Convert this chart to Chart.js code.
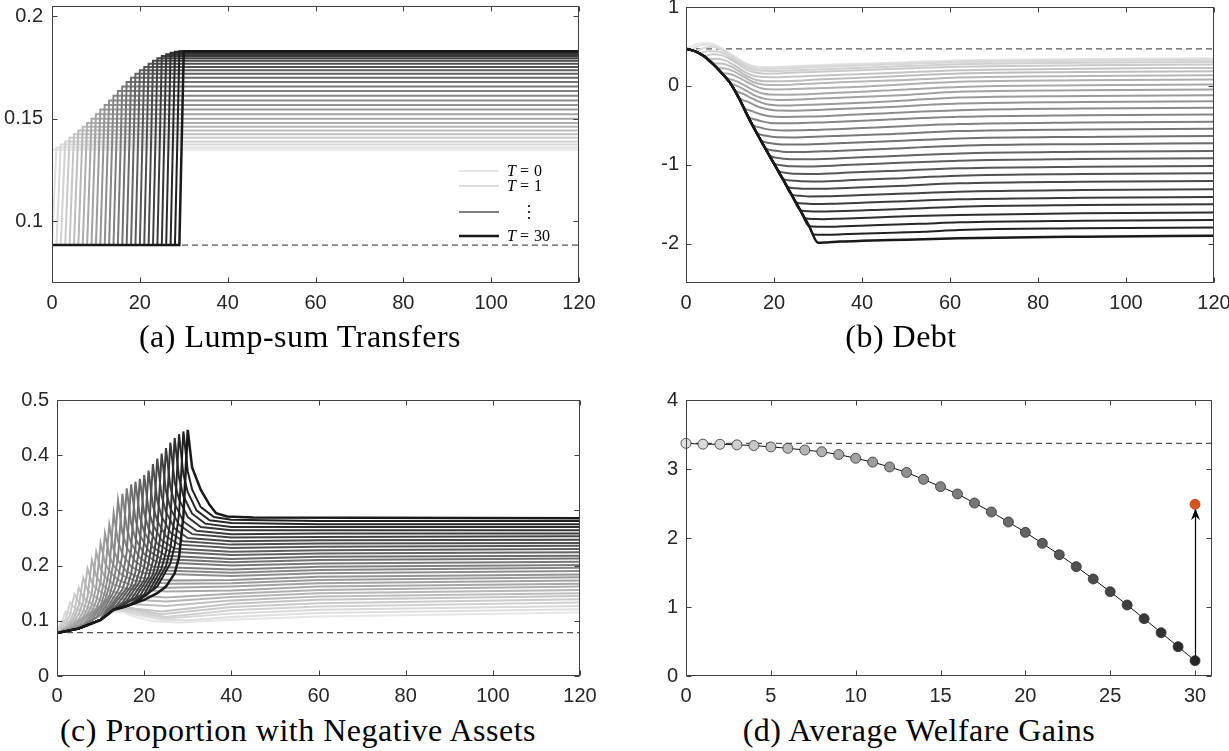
<!DOCTYPE html>
<html>
<head>
<meta charset="utf-8">
<script src="https://cdn.jsdelivr.net/npm/chart.js@4.4.1/dist/chart.umd.min.js"></script>
<style>
  html, body { margin: 0; padding: 0; background: #fff; overflow: hidden; }
  body { width: 1229px; height: 751px; position: relative; }
  canvas { position: absolute; }
  .cap { position: absolute; font-family: 'Liberation Serif', 'Times New Roman', serif; font-size: 32px;
         letter-spacing: 0.5px; color: #000; white-space: nowrap; transform: translateX(-50%); line-height: 1; }
</style>
</head>
<body>
<canvas id="chartA" width="614" height="320" style="left:0;top:0"></canvas>
<canvas id="chartB" width="615" height="320" style="left:614px;top:0"></canvas>
<canvas id="chartC" width="614" height="350" style="left:0;top:360px"></canvas>
<canvas id="chartD" width="615" height="350" style="left:614px;top:360px"></canvas>
<div class="cap" style="left:300px;top:320px">(a) Lump-sum Transfers</div>
<div class="cap" style="left:901px;top:320px">(b) Debt</div>
<div class="cap" style="left:298px;top:714px">(c) Proportion with Negative Assets</div>
<div class="cap" style="left:919px;top:714px">(d) Average Welfare Gains</div>

<script>
// delay T of the transfer increase, one line per value
const delays = [0, 1, 2, 3, 4, 5, 6, 7, 8, 9, 10, 11, 12, 13, 14, 15, 16, 17, 18, 19, 20, 21, 22, 23, 24, 25, 26, 27, 28, 29, 30];
const horizon = 120;

const xTicks = [0, 20, 40, 60, 80, 100, 120];
const yTicksA = [0.1, 0.15, 0.2];
const yTicksB = [-2, -1, 0, 1];
const yTicksC = [0, 0.1, 0.2, 0.3, 0.4, 0.5];
const xTicksD = [0, 5, 10, 15, 20, 25, 30];
const yTicksD = [0, 1, 2, 3, 4];

// (a) transfers: old level until T, new level afterwards
const transferOld = 0.0885;
const transferNew = [0.1350, 0.1360, 0.1375, 0.1390, 0.1408, 0.1425, 0.1443, 0.1462, 0.1480, 0.1500, 0.1522,
  0.1545, 0.1568, 0.1590, 0.1613, 0.1636, 0.1658, 0.1680, 0.1700, 0.1720, 0.1737, 0.1753, 0.1768, 0.1783,
  0.1795, 0.1806, 0.1815, 0.1822, 0.1827, 0.1829, 0.1830];

// (b) debt: shared path before T, then each line's own path
const debtSS = 0.47;
const debtCommonT = [0, 2, 4, 6, 8, 10, 12, 14, 16, 18, 20, 22, 24, 26, 28];
const debtCommonV = [0.47, 0.44, 0.38, 0.285, 0.17, 0.04, -0.15, -0.38, -0.59, -0.79, -0.985, -1.18, -1.38, -1.58, -1.78];
const debtTails = [
  [[0,.47],[2,.52],[4,.545],[6,.53],[8,.48],[10,.41],[12,.34],[14,.275],[16,.245],[18,.238],[21,.242],[26,.255],[35,.275],[50,.30],[62,.325],[90,.34],[120,.35]],
  [[1,.465],[3,.51],[5,.525],[7,.50],[9,.44],[11,.37],[13,.30],[15,.25],[17,.232],[20,.232],[26,.245],[35,.265],[50,.29],[62,.316],[90,.332],[120,.342]],
  [[2,.44],[4,.48],[6,.495],[8,.46],[10,.39],[12,.315],[14,.255],[16,.222],[18,.215],[22,.22],[30,.24],[45,.27],[62,.30],[90,.317],[120,.327]],
  [[3,.415],[5,.44],[7,.44],[9,.40],[11,.33],[13,.26],[15,.21],[17,.19],[20,.188],[28,.205],[45,.24],[62,.274],[90,.292],[120,.302]],
  [[4,.38],[6,.40],[8,.39],[10,.34],[12,.27],[14,.20],[16,.165],[18,.155],[22,.16],[30,.18],[45,.21],[62,.241],[90,.26],[120,.27]],
  [[5,.335],[7,.345],[9,.32],[11,.26],[13,.19],[15,.135],[17,.115],[20,.11],[28,.125],[45,.16],[62,.198],[90,.218],[120,.228]],
  [[6,.285],[8,.285],[10,.25],[12,.19],[14,.12],[16,.075],[18,.06],[22,.06],[30,.08],[45,.115],[62,.156],[90,.175],[120,.185]],
  [[7,.23],[9,.22],[11,.18],[13,.12],[15,.055],[17,.02],[19,.01],[24,.015],[35,.045],[50,.075],[62,.105],[90,.125],[120,.135]],
  [[8,.17],[10,.15],[12,.105],[14,.045],[16,-.01],[18,-.04],[21,-.045],[28,-.035],[40,-.01],[62,.051],[90,.07],[120,.08]],
  [[9,.105],[11,.07],[13,.015],[15,-.045],[17,-.09],[19,-.11],[23,-.112],[32,-.095],[45,-.06],[62,-.013],[90,.007],[120,.017]],
  [[10,.04],[12,-.01],[14,-.07],[16,-.13],[18,-.165],[21,-.178],[26,-.172],[35,-.15],[50,-.115],[62,-.076],[90,-.056],[120,-.046]],
  [[11,-.05],[13,-.10],[15,-.16],[17,-.21],[19,-.24],[22,-.25],[28,-.24],[40,-.215],[50,-.185],[62,-.148],[90,-.128],[120,-.118]],
  [[12,-.15],[14,-.20],[16,-.255],[18,-.29],[20,-.31],[24,-.315],[32,-.30],[45,-.27],[62,-.224],[90,-.204],[120,-.194]],
  [[13,-.265],[15,-.32],[17,-.36],[19,-.385],[22,-.395],[28,-.39],[40,-.36],[62,-.308],[90,-.288],[120,-.278]],
  [[14,-.38],[16,-.43],[18,-.46],[20,-.475],[24,-.475],[32,-.46],[45,-.43],[62,-.392],[90,-.372],[120,-.362]],
  [[15,-.485],[17,-.53],[19,-.555],[22,-.565],[28,-.56],[40,-.535],[62,-.485],[90,-.465],[120,-.455]],
  [[16,-.59],[18,-.63],[20,-.65],[24,-.655],[32,-.64],[45,-.615],[62,-.574],[90,-.554],[120,-.544]],
  [[17,-.69],[19,-.725],[21,-.74],[25,-.745],[33,-.73],[45,-.705],[62,-.667],[90,-.647],[120,-.637]],
  [[18,-.79],[20,-.82],[22,-.835],[26,-.84],[34,-.825],[45,-.80],[62,-.759],[90,-.739],[120,-.729]],
  [[19,-.885],[21,-.915],[23,-.928],[27,-.932],[35,-.918],[45,-.895],[62,-.857],[90,-.837],[120,-.827]],
  [[20,-.985],[22,-1.01],[24,-1.02],[28,-1.022],[36,-1.005],[45,-.985],[62,-.949],[90,-.929],[120,-.919]],
  [[21,-1.08],[23,-1.105],[25,-1.115],[29,-1.117],[37,-1.10],[46,-1.08],[62,-1.046],[90,-1.026],[120,-1.016]],
  [[22,-1.18],[24,-1.20],[26,-1.21],[30,-1.212],[38,-1.195],[47,-1.175],[62,-1.139],[90,-1.119],[120,-1.109]],
  [[23,-1.28],[25,-1.298],[27,-1.306],[31,-1.306],[39,-1.29],[48,-1.27],[62,-1.236],[90,-1.216],[120,-1.206]],
  [[24,-1.38],[26,-1.395],[28,-1.402],[32,-1.40],[40,-1.385],[50,-1.365],[62,-1.342],[90,-1.322],[120,-1.312]],
  [[25,-1.48],[27,-1.493],[29,-1.498],[33,-1.495],[41,-1.48],[50,-1.462],[62,-1.439],[90,-1.419],[120,-1.409]],
  [[26,-1.58],[28,-1.59],[30,-1.594],[34,-1.59],[42,-1.575],[52,-1.555],[62,-1.532],[90,-1.512],[120,-1.502]],
  [[27,-1.68],[29,-1.688],[31,-1.69],[35,-1.685],[43,-1.67],[52,-1.65],[62,-1.637],[90,-1.617],[120,-1.607]],
  [[28,-1.78],[30,-1.786],[32,-1.787],[36,-1.78],[44,-1.765],[53,-1.75],[62,-1.73],[90,-1.71],[120,-1.70]],
  [[29,-1.885],[31,-1.889],[33,-1.888],[37,-1.88],[45,-1.865],[54,-1.85],[62,-1.827],[90,-1.807],[120,-1.797]],
  [[30,-1.99],[32,-1.985],[35,-1.975],[40,-1.965],[50,-1.95],[62,-1.932],[90,-1.912],[120,-1.90]]
];

// (c) share of households with negative assets, [t, value] per line
const negSS = 0.0785;
const negPaths = [
  [[0,.078],[4,.084],[8,.093],[11,.106],[13,.117],[15,.116],[18,.107],[22,.099],[28,.097],[40,.102],[60,.108],[120,.115]],
  [[0,.078],[1,.100],[2,.098],[4,.097],[7,.099],[10,.108],[13,.118],[15,.118],[18,.111],[24,.102],[30,.101],[40,.107],[60,.114],[120,.121]],
  [[0,.078],[1,.096],[2,.117],[3,.114],[4,.112],[6,.111],[10,.113],[13,.119],[15,.119],[18,.113],[25,.104],[40,.113],[60,.120],[120,.127]],
  [[0,.078],[1,.092],[2,.103],[3,.133],[4,.124],[5,.120],[7,.116],[10,.116],[13,.121],[15,.121],[19,.115],[25,.107],[40,.119],[60,.126],[120,.133]],
  [[0,.078],[1,.089],[2,.096],[3,.111],[4,.148],[5,.134],[6,.128],[8,.122],[11,.121],[14,.124],[17,.121],[24,.112],[40,.125],[60,.132],[120,.139]],
  [[0,.078],[2,.091],[3,.101],[4,.117],[5,.160],[6,.143],[7,.135],[9,.127],[12,.125],[15,.126],[18,.122],[24,.117],[40,.131],[60,.138],[120,.145]],
  [[0,.078],[3,.096],[4,.107],[5,.127],[6,.178],[7,.156],[8,.147],[10,.137],[13,.133],[16,.131],[25,.127],[40,.137],[60,.144],[120,.150]],
  [[0,.078],[1,.083],[4,.100],[5,.112],[6,.135],[7,.195],[8,.169],[9,.158],[11,.147],[14,.140],[25,.135],[40,.143],[60,.150],[120,.156]],
  [[0,.078],[2,.085],[5,.103],[6,.117],[7,.143],[8,.210],[9,.181],[10,.168],[12,.155],[15,.148],[25,.142],[40,.149],[60,.156],[120,.162]],
  [[0,.078],[3,.087],[6,.107],[7,.123],[8,.151],[9,.225],[10,.194],[11,.180],[13,.166],[16,.158],[25,.153],[40,.155],[60,.162],[120,.167]],
  [[0,.078],[4,.090],[7,.112],[8,.129],[9,.161],[10,.241],[11,.205],[12,.190],[14,.174],[17,.165],[25,.160],[40,.162],[60,.168],[120,.173]],
  [[0,.078],[5,.092],[8,.117],[9,.136],[10,.170],[11,.258],[12,.218],[13,.200],[15,.182],[18,.172],[26,.167],[40,.168],[60,.174],[120,.179]],
  [[0,.078],[6,.094],[9,.122],[10,.142],[11,.180],[12,.274],[13,.229],[14,.209],[16,.189],[19,.178],[27,.173],[40,.174],[60,.180],[120,.184]],
  [[0,.078],[4,.084],[7,.098],[10,.128],[11,.152],[12,.193],[13,.295],[14,.244],[15,.221],[17,.198],[20,.186],[40,.181],[60,.186],[120,.190]],
  [[0,.078],[5,.086],[8,.102],[11,.137],[12,.163],[13,.208],[14,.318],[15,.259],[16,.233],[18,.207],[21,.192],[40,.187],[60,.192],[120,.196]],
  [[0,.078],[5,.086],[9,.106],[12,.145],[13,.172],[14,.215],[15,.330],[16,.268],[17,.241],[19,.214],[22,.198],[40,.193],[60,.198],[120,.201]],
  [[0,.078],[5,.086],[10,.111],[13,.152],[14,.176],[15,.220],[16,.340],[17,.277],[18,.249],[20,.221],[23,.206],[40,.200],[60,.204],[120,.207]],
  [[0,.078],[5,.086],[10,.102],[11,.117],[14,.155],[15,.179],[16,.224],[17,.347],[18,.284],[19,.255],[21,.227],[24,.212],[40,.206],[60,.210],[120,.213]],
  [[0,.078],[5,.086],[10,.102],[12,.123],[15,.157],[16,.181],[17,.228],[18,.352],[19,.289],[20,.261],[22,.233],[25,.218],[40,.212],[60,.216],[120,.218]],
  [[0,.078],[5,.086],[10,.102],[13,.129],[16,.159],[17,.185],[18,.232],[19,.357],[20,.295],[21,.267],[23,.240],[26,.225],[40,.219],[60,.222],[120,.224]],
  [[0,.078],[5,.086],[10,.102],[14,.131],[17,.163],[18,.189],[19,.237],[20,.364],[21,.301],[22,.274],[24,.246],[27,.231],[40,.225],[60,.228],[120,.230]],
  [[0,.078],[5,.086],[10,.102],[13,.120],[15,.133],[18,.167],[19,.193],[20,.242],[21,.372],[22,.309],[23,.281],[25,.253],[28,.238],[40,.232],[60,.234],[120,.236]],
  [[0,.078],[5,.086],[10,.102],[13,.120],[16,.136],[19,.171],[20,.198],[21,.249],[22,.384],[23,.318],[24,.289],[26,.260],[29,.244],[40,.238],[60,.240],[120,.241]],
  [[0,.078],[5,.086],[10,.102],[13,.120],[17,.139],[20,.174],[21,.203],[22,.255],[23,.394],[24,.327],[25,.297],[27,.267],[30,.250],[40,.244],[60,.246],[120,.247]],
  [[0,.078],[5,.086],[10,.102],[13,.120],[18,.142],[21,.179],[22,.208],[23,.262],[24,.403],[25,.335],[26,.304],[28,.274],[31,.257],[40,.251],[60,.252],[120,.253]],
  [[0,.078],[5,.086],[10,.102],[13,.120],[19,.145],[22,.184],[23,.214],[24,.270],[25,.413],[26,.343],[27,.312],[29,.280],[32,.263],[40,.257],[60,.258],[120,.258]],
  [[0,.078],[5,.086],[10,.102],[13,.120],[16,.126],[20,.148],[23,.190],[24,.221],[25,.276],[26,.423],[27,.351],[28,.320],[30,.288],[33,.270],[40,.264],[60,.264],[120,.264]],
  [[0,.078],[5,.086],[10,.102],[13,.120],[17,.129],[21,.152],[24,.195],[25,.225],[26,.282],[27,.431],[28,.359],[29,.326],[31,.294],[34,.276],[40,.270],[60,.270],[120,.270]],
  [[0,.078],[5,.086],[10,.102],[13,.120],[18,.132],[22,.157],[25,.199],[26,.231],[27,.288],[28,.438],[29,.365],[30,.333],[32,.300],[35,.282],[40,.277],[60,.275],[120,.275]],
  [[0,.078],[5,.086],[10,.102],[13,.120],[18,.132],[23,.162],[26,.204],[27,.236],[28,.293],[29,.443],[30,.371],[31,.338],[33,.306],[36,.288],[40,.283],[60,.281],[120,.281]],
  [[0,.078],[5,.086],[10,.101],[13,.120],[15,.124],[20,.138],[23,.150],[25,.162],[27,.186],[28,.215],[29,.290],[30,.446],[31,.378],[33,.337],[35,.310],[36.5,.295],[39,.289],[45,.287],[120,.286]]
];

// (d) average welfare gains by T
const welfare = [3.372, 3.36, 3.358, 3.35, 3.34, 3.32, 3.30, 3.275, 3.25, 3.21, 3.155, 3.10, 3.03, 2.95, 2.85,
  2.744, 2.638, 2.507, 2.377, 2.232, 2.082, 1.923, 1.758, 1.585, 1.406, 1.222, 1.029, 0.831, 0.628, 0.425, 0.222];
const welfareRef = 3.372;
const welfareAlt = 2.488;

Chart.defaults.font.family = "'Liberation Sans', Arial, Helvetica, sans-serif";

function gray(T, hi, lo) {
  const g = Math.round(255 * (hi - (hi - lo) * T / 30));
  return `rgb(${g},${g},${g})`;
}
const lineGray = T => gray(T, 0.9, 0.1);

function axis(min, max, ticks, size, horizontal, pad) {
  return {
    type: 'linear', min: min, max: max,
    grid: { display: false, drawTicks: false },
    border: { display: false },
    ticks: { color: '#262626', font: { size: 20 }, padding: pad, maxRotation: 0, autoSkip: false,
             callback: v => String(v) },
    afterBuildTicks: s => { s.ticks = ticks.map(v => ({ value: v })); },
    afterFit: s => {
      if (horizontal) s.height = size; else s.width = size;
      s.paddingLeft = s.paddingRight = s.paddingTop = s.paddingBottom = 0;
    }
  };
}

function refLine(v, x0, x1) {
  return { data: [{ x: x0, y: v }, { x: x1, y: v }], borderColor: '#555', borderWidth: 1.2,
           borderDash: [6, 4], pointRadius: 0 };
}

// box with inward ticks on all four sides, like the original axes
const frame = {
  id: 'frame',
  afterDraw(chart) {
    const { ctx, chartArea: a, scales: { x, y } } = chart;
    const L = Math.round(a.left) + 0.5, R = Math.round(a.right) - 0.5;
    const T = Math.round(a.top) + 0.5, B = Math.round(a.bottom) - 0.5;
    ctx.save();
    ctx.strokeStyle = '#404040';
    ctx.lineWidth = 1;
    ctx.strokeRect(L, T, R - L, B - T);
    ctx.beginPath();
    x.ticks.forEach(t => {
      const p = Math.round(x.getPixelForValue(t.value)) + 0.5;
      ctx.moveTo(p, B); ctx.lineTo(p, B - 5);
      ctx.moveTo(p, T); ctx.lineTo(p, T + 5);
    });
    y.ticks.forEach(t => {
      const p = Math.round(y.getPixelForValue(t.value)) + 0.5;
      ctx.moveTo(L, p); ctx.lineTo(L + 5, p);
      ctx.moveTo(R, p); ctx.lineTo(R - 5, p);
    });
    ctx.stroke();
    ctx.restore();
  }
};

const legendA = {
  id: 'legendA',
  afterDraw(chart) {
    const ctx = chart.ctx;
    const rows = [
      { label: '0', color: lineGray(0), y: 171, w: 2 },
      { label: '1', color: lineGray(1), y: 186, w: 2 },
      { label: null, color: lineGray(15), y: 212, w: 2 },
      { label: '30', color: lineGray(30), y: 236, w: 2.5 }
    ];
    ctx.save();
    rows.forEach(r => {
      ctx.strokeStyle = r.color;
      ctx.lineWidth = r.w;
      ctx.beginPath(); ctx.moveTo(459, r.y); ctx.lineTo(499, r.y); ctx.stroke();
      ctx.fillStyle = '#000';
      ctx.textBaseline = 'middle';
      if (r.label === null) {
        [-6, 0, 6].forEach(d => { ctx.beginPath(); ctx.arc(529, r.y + d, 1.1, 0, Math.PI * 2); ctx.fill(); });
      } else {
        ctx.font = "italic 16px 'Liberation Serif', serif";
        ctx.fillText('T', 507, r.y + 1);
        const w = ctx.measureText('T').width;
        ctx.font = "16px 'Liberation Serif', serif";
        ctx.fillText('=', 507 + w + 4, r.y + 1);
        ctx.fillText(r.label, 507 + w + 18, r.y + 1);
      }
    });
    ctx.restore();
  }
};

const arrowD = {
  id: 'arrowD',
  beforeDatasetsDraw(chart) {
    const { ctx, scales: { x, y } } = chart;
    const last = welfare.length - 1;
    const px = Math.round(x.getPixelForValue(delays[last])) + 0.5;
    const y0 = y.getPixelForValue(welfare[last]);
    const tip = y.getPixelForValue(welfareAlt) + 4;
    ctx.save();
    ctx.strokeStyle = '#000';
    ctx.lineWidth = 1.2;
    ctx.beginPath(); ctx.moveTo(px, y0); ctx.lineTo(px, tip + 6); ctx.stroke();
    ctx.fillStyle = '#000';
    ctx.beginPath();
    ctx.moveTo(px, tip); ctx.lineTo(px - 4.5, tip + 12); ctx.lineTo(px, tip + 8); ctx.lineTo(px + 4.5, tip + 12);
    ctx.closePath(); ctx.fill();
    ctx.restore();
  }
};

function makeChart(id, datasets, xAx, yAx, padding, plugins) {
  return new Chart(document.getElementById(id), {
    type: 'line',
    data: { datasets: datasets },
    options: {
      responsive: false, animation: false, events: [],
      layout: { padding: padding },
      plugins: { legend: { display: false }, tooltip: { enabled: false } },
      scales: { x: xAx, y: yAx }
    },
    plugins: [frame].concat(plugins || [])
  });
}

// first dataset is drawn on top, so go from T=30 down to T=0
const dsA = [], dsB = [], dsC = [];
for (let i = delays.length - 1; i >= 0; i--) {
  const T = delays[i];
  const w = T === 30 ? 2.5 : 2;
  const v = transferNew[i];
  const ptsA = T === 0
    ? [{ x: 0, y: v }, { x: horizon, y: v }]
    : [{ x: 0, y: transferOld }, { x: T - 1, y: transferOld }, { x: T, y: v }, { x: horizon, y: v }];
  dsA.push({ data: ptsA, borderColor: lineGray(T), borderWidth: w, pointRadius: 0 });

  const ptsB = [];
  debtCommonT.forEach((t, k) => { if (t < T) ptsB.push({ x: t, y: debtCommonV[k] }); });
  debtTails[i].forEach(p => ptsB.push({ x: p[0], y: p[1] }));
  dsB.push({ data: ptsB, borderColor: lineGray(T), borderWidth: w, pointRadius: 0, cubicInterpolationMode: 'monotone' });

  dsC.push({ data: negPaths[i].map(p => ({ x: p[0], y: p[1] })), borderColor: lineGray(T), borderWidth: w, pointRadius: 0 });
}
dsA.push(refLine(transferOld, 0, horizon));
dsB.push(refLine(debtSS, 0, horizon));
dsC.push(refLine(negSS, 0, horizon));

makeChart('chartA', dsA, axis(0, 120, xTicks, 37, true, 8), axis(0.07, 0.205, yTicksA, 52, false, 9),
  { left: 0, right: 35, top: 6, bottom: 0 }, [legendA]);
makeChart('chartB', dsB, axis(0, 120, xTicks, 37, true, 8), axis(-2.5, 1, yTicksB, 72, false, 7),
  { left: 0, right: 15, top: 7, bottom: 0 });
makeChart('chartC', dsC, axis(0, 120, xTicks, 34, true, 8), axis(0, 0.5, yTicksC, 57, false, 8),
  { left: 0, right: 34, top: 40, bottom: 0 });

const dsD = [
  { data: [{ x: delays[delays.length - 1], y: welfareAlt }], showLine: false, pointRadius: 5,
    pointBackgroundColor: '#d95319', pointBorderColor: '#a8431a', pointBorderWidth: 0.8, clip: false },
  { data: delays.map((T, i) => ({ x: T, y: welfare[i] })), borderColor: '#111', borderWidth: 1,
    pointRadius: 5, pointBackgroundColor: delays.map(T => gray(T, 0.88, 0.15)),
    pointBorderColor: '#303030', pointBorderWidth: 0.8, clip: false },
  refLine(welfareRef, 0, 31)
];
makeChart('chartD', dsD, axis(0, 31, xTicksD, 34, true, 8), axis(0, 4, yTicksD, 72, false, 8),
  { left: 0, right: 17, top: 40, bottom: 0 }, [arrowD]);
</script>
</body>
</html>
